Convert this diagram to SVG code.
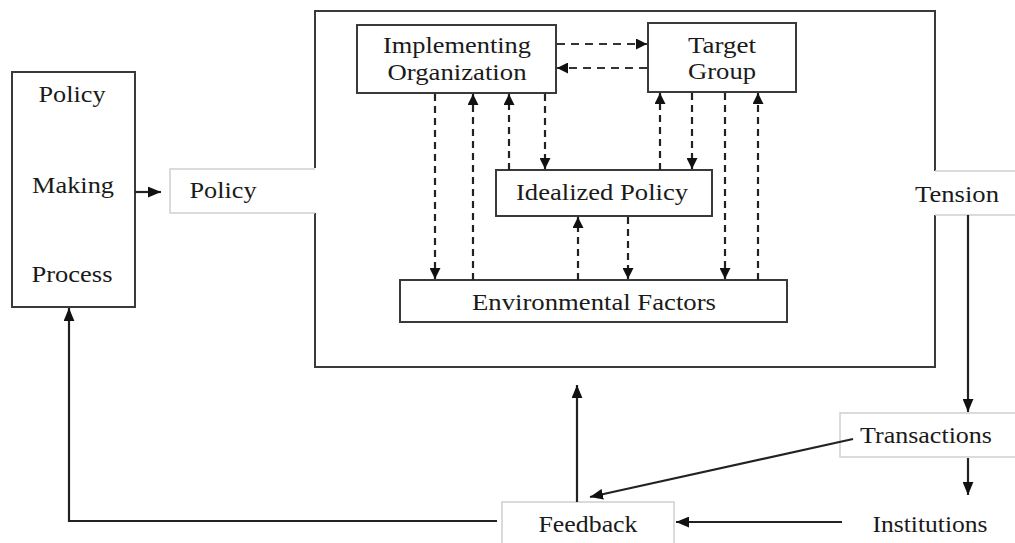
<svg xmlns="http://www.w3.org/2000/svg" width="1015" height="543" viewBox="0 0 1015 543">
<style>
.box{fill:#fff;stroke:#3a3a3a;stroke-width:2}
.lbox{fill:#fff;stroke:#d0d0d0;stroke-width:1.5}
.frame{fill:none;stroke:#3a3a3a;stroke-width:2}
text{font-family:'Liberation Serif',Tinos,'Times New Roman',serif;font-size:23px;fill:#1a1a1a;text-anchor:middle}
.solid{fill:none;stroke:#222;stroke-width:2.2}
.dash{fill:none;stroke:#222;stroke-width:2.2;stroke-dasharray:7 5}
.dashh{fill:none;stroke:#333;stroke-width:2.2;stroke-dasharray:8 6}
</style>
<defs>
<marker id="ah" viewBox="0 0 12 10" refX="12" refY="5" markerWidth="13" markerHeight="11" markerUnits="userSpaceOnUse" orient="auto"><path d="M0,0 L12,5 L0,10 Z" fill="#111"/></marker>
<marker id="ahd" viewBox="0 0 10 10" refX="10" refY="5" markerWidth="11" markerHeight="11" markerUnits="userSpaceOnUse" orient="auto"><path d="M0,0 L10,5 L0,10 Z" fill="#111"/></marker>
</defs>
<rect width="1015" height="543" fill="#fff"/>
<g id="frame">
<path class="frame" d="M315,168 V11 H935 V171 M935,215 V367 H315 V213"/>
</g>
<g id="policy-making-process">
<rect class="box" x="12" y="72" width="123" height="235"/>
<text x="72" y="102" textLength="67" lengthAdjust="spacingAndGlyphs">Policy</text>
<text x="73" y="193" textLength="82" lengthAdjust="spacingAndGlyphs">Making</text>
<text x="72" y="282" textLength="81" lengthAdjust="spacingAndGlyphs">Process</text>
</g>
<g id="policy">
<path class="lbox" d="M315,169 H170 V213 H315" fill="none"/>
<text x="223" y="198" textLength="67" lengthAdjust="spacingAndGlyphs">Policy</text>
</g>
<g id="implementing-organization">
<rect class="box" x="357" y="25" width="199" height="68"/>
<text x="457" y="53" textLength="148" lengthAdjust="spacingAndGlyphs">Implementing</text>
<text x="457" y="80" textLength="139" lengthAdjust="spacingAndGlyphs">Organization</text>
</g>
<g id="target-group">
<rect class="box" x="648" y="23" width="148" height="69"/>
<text x="722" y="53" textLength="68" lengthAdjust="spacingAndGlyphs">Target</text>
<text x="722" y="79" textLength="68" lengthAdjust="spacingAndGlyphs">Group</text>
</g>
<g id="idealized-policy">
<rect class="box" x="496" y="170" width="216" height="46"/>
<text x="602" y="200" textLength="172" lengthAdjust="spacingAndGlyphs">Idealized Policy</text>
</g>
<g id="environmental-factors">
<rect class="box" x="400" y="280" width="387" height="42"/>
<text x="594" y="310" textLength="244" lengthAdjust="spacingAndGlyphs">Environmental Factors</text>
</g>
<g id="tension">
<path class="lbox" d="M935,171 H1015 M935,215 H1015" fill="none"/>
<text x="957" y="202" textLength="84" lengthAdjust="spacingAndGlyphs">Tension</text>
</g>
<g id="transactions">
<rect class="lbox" x="840" y="413" width="180" height="44"/>
<text x="926" y="443" textLength="132" lengthAdjust="spacingAndGlyphs">Transactions</text>
</g>
<g id="institutions">
<text x="930" y="532" textLength="115" lengthAdjust="spacingAndGlyphs">Institutions</text>
</g>
<g id="feedback">
<rect class="lbox" x="502" y="502" width="172" height="50"/>
<text x="588" y="532" textLength="99" lengthAdjust="spacingAndGlyphs">Feedback</text>
</g>
<g id="connectors">
<path class="solid" d="M135,192 H161" marker-end="url(#ah)"/>
<path class="dashh" d="M557,44 H647" marker-end="url(#ahd)"/>
<path class="dashh" d="M647,68 H557" marker-end="url(#ahd)"/>
<path class="dash" d="M435,94 V279" marker-end="url(#ahd)"/>
<path class="dash" d="M473,280 V94" marker-end="url(#ahd)"/>
<path class="dash" d="M509,170 V94" marker-end="url(#ahd)"/>
<path class="dash" d="M545,94 V169" marker-end="url(#ahd)"/>
<path class="dash" d="M660,170 V93" marker-end="url(#ahd)"/>
<path class="dash" d="M692,93 V169" marker-end="url(#ahd)"/>
<path class="dash" d="M725,93 V279" marker-end="url(#ahd)"/>
<path class="dash" d="M758,280 V93" marker-end="url(#ahd)"/>
<path class="dash" d="M578,280 V217" marker-end="url(#ahd)"/>
<path class="dash" d="M628,217 V279" marker-end="url(#ahd)"/>
<path class="solid" d="M968,215 V412" marker-end="url(#ah)"/>
<path class="solid" d="M968,458 V495" marker-end="url(#ah)"/>
<path class="solid" d="M853,439 L590,497" marker-end="url(#ah)"/>
<path class="solid" d="M842,522 H676" marker-end="url(#ah)"/>
<path class="solid" d="M577,502 V385" marker-end="url(#ah)"/>
<path class="solid" d="M497,521 H69 V308" marker-end="url(#ah)"/>
</g>
</svg>
